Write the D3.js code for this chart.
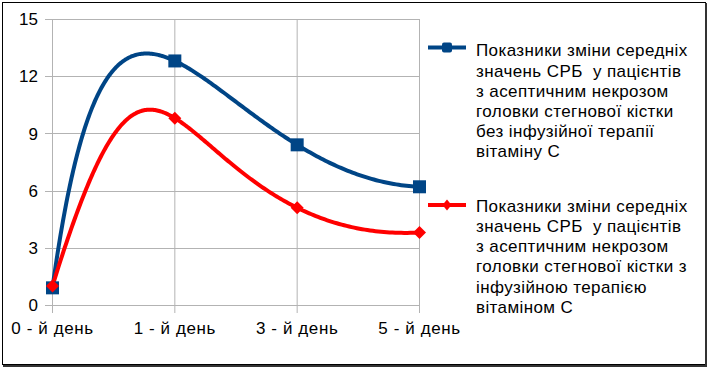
<!DOCTYPE html>
<html><head><meta charset="utf-8">
<script src="https://cdn.jsdelivr.net/npm/d3@7"></script>
<style>body{margin:0;background:#fff}svg{display:block;font-family:"Liberation Sans",Arial,sans-serif}text{white-space:pre}</style>
</head><body><svg id="c" width="708" height="368"></svg>
<script>
const categories = ["0 - й день", "1 - й день", "3 - й день", "5 - й день"];
const seriesWithout = [0.9, 12.8, 8.4, 6.2];
const seriesWith = [1.0, 9.8, 5.1, 3.8];
const yTicks = [0, 3, 6, 9, 12, 15];
const legendWithout = ["Показники зміни середніх", "значень СРБ  у пацієнтів", "з асептичним некрозом", "головки стегнової кістки", "без інфузійної терапії", "вітаміну С"];
const legendWith = ["Показники зміни середніх", "значень СРБ  у пацієнтів", "з асептичним некрозом", "головки стегнової кістки з", "інфузійною терапією", "вітаміном С"];

const svg = d3.select("#c");
const x = d3.scalePoint().domain(categories).range([52.5, 419.5]);
const xi = d3.scaleLinear().domain([0, categories.length - 1]).range([52.5, 419.5]);
const y = d3.scaleLinear().domain([0, 15]).range([305, 19]);

// border
svg.append("rect").attr("x", 2.5).attr("y", 2.5).attr("width", 703).attr("height", 362).attr("fill", "#fff").attr("stroke", "#000").attr("stroke-width", 1);
svg.append("path").attr("d", "M706,3V366H3").attr("fill", "none").attr("stroke", "#333").attr("stroke-width", 2);

const grid = "#b3b3b3";
svg.append("g").selectAll("line").data(yTicks).join("line")
  .attr("x1", 45).attr("x2", 419.5)
  .attr("y1", d => Math.round(y(d)) + 0.5).attr("y2", d => Math.round(y(d)) + 0.5)
  .attr("stroke", grid);
svg.append("g").selectAll("line").data(categories).join("line")
  .attr("x1", d => x(d)).attr("x2", d => x(d))
  .attr("y1", y(15)).attr("y2", 313)
  .attr("stroke", grid);

svg.append("g").selectAll("text").data(yTicks).join("text")
  .attr("x", 38).attr("y", d => y(d)).attr("dy", "0.36em")
  .attr("text-anchor", "end").attr("font-size", 17).text(d => d);
svg.append("g").selectAll("text").data(categories).join("text")
  .attr("x", d => x(d)).attr("y", 334)
  .attr("text-anchor", "middle").attr("font-size", 17).attr("letter-spacing", 0.6).text(d => d);

// global cubic interpolation through the points (centripetal parameters, data space)
function curvePoints(vals) {
  const xs = vals.map((d, i) => i), ys = vals.slice();
  const t = [0];
  for (let i = 1; i < vals.length; i++) t.push(t[i - 1] + Math.sqrt(Math.hypot(xs[i] - xs[i - 1], ys[i] - ys[i - 1])));
  const lagr = (v, tt) => {
    let s = 0;
    for (let i = 0; i < t.length; i++) { let p = v[i]; for (let j = 0; j < t.length; j++) if (j !== i) p *= (tt - t[j]) / (t[i] - t[j]); s += p; }
    return s;
  };
  const n = 240, T = t[t.length - 1], out = [];
  for (let k = 0; k <= n; k++) { const tt = T * k / n; out.push([lagr(xs, tt), lagr(ys, tt)]); }
  return out;
}
const line = d3.line().x(p => xi(p[0])).y(p => y(p[1]));

svg.append("path").attr("d", line(curvePoints(seriesWithout))).attr("fill", "none").attr("stroke", "#004586").attr("stroke-width", 4).attr("stroke-linejoin", "round");
svg.append("path").attr("d", line(curvePoints(seriesWith))).attr("fill", "none").attr("stroke", "#ff0000").attr("stroke-width", 4).attr("stroke-linejoin", "round");

svg.append("g").selectAll("rect").data(seriesWithout).join("rect")
  .attr("x", (d, i) => x(categories[i]) - 6.5).attr("y", d => y(d) - 6.5)
  .attr("width", 13).attr("height", 13).attr("fill", "#004586");
const diamond = (cx, cy, rx, ry) => `M${cx},${cy - ry}L${cx + rx},${cy}L${cx},${cy + ry}L${cx - rx},${cy}Z`;
svg.append("g").selectAll("path").data(seriesWith).join("path")
  .attr("d", (d, i) => diamond(x(categories[i]), y(d), 6.5, 6.5)).attr("fill", "#ff0000");

function legend(y0, base, color, lines, marker) {
  const g = svg.append("g");
  g.append("line").attr("x1", 428).attr("x2", 466).attr("y1", y0).attr("y2", y0).attr("stroke", color).attr("stroke-width", 4);
  if (marker === "square") g.append("rect").attr("x", 442).attr("y", y0 - 5).attr("width", 10).attr("height", 10).attr("rx", 2).attr("fill", color);
  else g.append("path").attr("d", diamond(447, y0, 4.5, 5.5)).attr("fill", color);
  const t = g.append("text").attr("x", 476).attr("font-size", 17).attr("letter-spacing", 0.4);
  lines.forEach((s, i) => t.append("tspan").attr("x", 476).attr("y", base + i * 20.2).text(s));
}
legend(47.5, 56.3, "#004586", legendWithout, "square");
legend(205, 211.8, "#ff0000", legendWith, "diamond");
</script></body></html>
